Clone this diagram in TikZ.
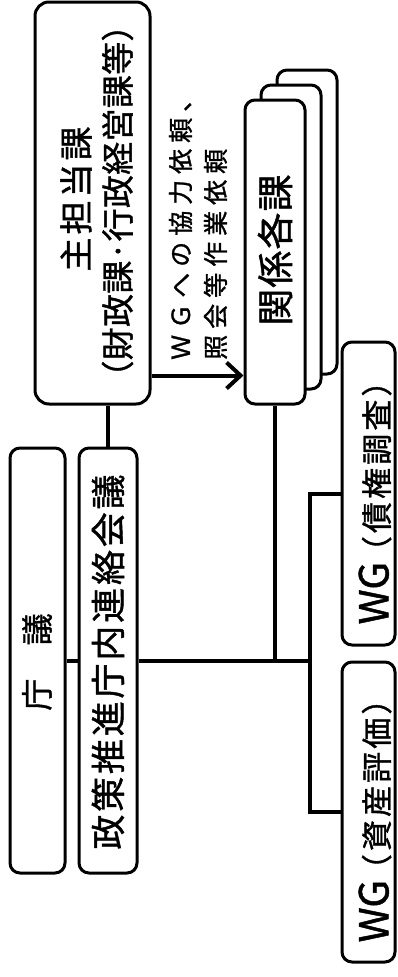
\documentclass[tikz,border=0pt]{standalone}
\usepackage{fontspec}
\setmainfont{Noto Sans CJK JP}[FakeBold=1.2]
\usetikzlibrary{arrows.meta,shadows}

\tikzset{
  box/.style={draw, line width=3pt, rounded corners=10pt, fill=white, inner sep=0pt},
  conn/.style={line width=4pt},
  vtext/.style={rotate=90, inner sep=0pt}
}
\newcommand{\jfont}[2]{\fontsize{#1}{#1}\selectfont\addfontfeatures{LetterSpace=#2}}
\newcommand{\wgfont}{\fontsize{40}{40}\selectfont\addfontfeatures{LetterSpace=0}}

\begin{document}
\begin{tikzpicture}[x=1pt,y=-1pt]
    \useasboundingbox (0,0) rectangle (397,977);
    % boxes
    \node[box, rounded corners=14pt, minimum width=115pt, minimum height=402pt] (main) at (92.5,203) {};
    \node[box, minimum width=55pt, minimum height=425pt] (chogi) at (37.5,660.5) {};
    \node[box, minimum width=58pt, minimum height=425pt] (renkei) at (108,660.5) {};
    \node[box, double copy shadow={shadow xshift=16pt, shadow yshift=15pt}, minimum width=60pt, minimum height=304pt] (kankei) at (275,252) {};
    \node[box, minimum width=53pt, minimum height=303pt] (wgb) at (368.5,493.5) {};
    \node[box, minimum width=53pt, minimum height=300pt] (wga) at (368.5,812) {};
    % texts
    \node[vtext, font=\jfont{34}{9}] (maint) at (76,199) {主担当課};
    \node[vtext, font=\jfont{33}{1}] (mainsub) at (117.5,201) {（財政課·行政経営課等）};
    \node[vtext, font=\jfont{32}{2}] (chogit) at (37,662) {庁　議};
    \node[vtext, font=\jfont{35}{8}] (renkeit) at (108,662) {政策推進庁内連絡会議};
    \node[vtext, font=\jfont{37}{3}] (kankeit) at (275,250) {関係各課};
    \node[vtext, font=\jfont{31}{10}] (wgbt) at (375,495) {{\wgfont WG}\kern-5pt（債権調査）};
    \node[vtext, font=\jfont{31}{10}] (wgat) at (375,813) {{\wgfont WG}\kern-5pt（資産評価）};
    \node[vtext, anchor=west, align=left, font=\jfont{25}{24}] (reqt) at (198,360) {ＷＧへの協力依頼、\\[10pt]照会等作業依頼};
    % connectors
    \coordinate (bus) at (310,660.5);
    \draw[conn] (renkei.north) -- (renkei.north |- main.south);
    \draw[conn] (chogi.east) -- (renkei.west);
    \draw[conn] (renkei.east) -- (bus);
    \draw[conn] (kankei.south) -- (kankei.south |- bus);
    \draw[conn] (wgb.west) -| (bus);
    \draw[conn] (wga.west) -| (bus);
    \draw[conn, -{Straight Barb[length=14pt, width=26pt]}] ([yshift=30pt]main.south east) -- ([yshift=30pt]kankei.south west);
\end{tikzpicture}
\end{document}
